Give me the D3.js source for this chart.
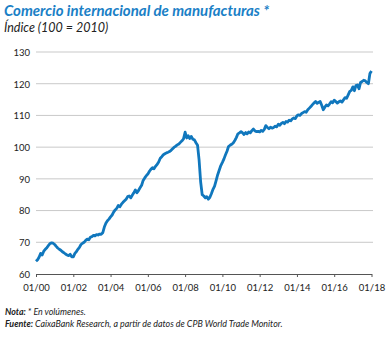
<!DOCTYPE html>
<html>
<head>
<meta charset="utf-8">
<script src="https://cdn.jsdelivr.net/npm/d3@7"></script>
<style>
  html, body { margin: 0; padding: 0; background: #fff; }
  svg { display: block; }
</style>
</head>
<body>
<svg id="chart" width="389" height="338"></svg>
<script>
// ---- DATA (monthly index, 100 = 2010), from Jan 2000 ----
const startYear = 2000;
const values = [
  // 2000
  64.0, 64.5, 65.3, 66.5, 66.0, 67.2, 67.8, 68.3, 69.0, 69.6, 69.8, 69.7,
  // 2001
  69.3, 68.7, 68.2, 67.8, 67.5, 67.0, 66.7, 66.3, 66.0, 65.8, 66.2, 65.4,
  // 2002
  65.4, 66.5, 67.0, 67.8, 68.4, 69.3, 69.7, 70.0, 70.6, 71.0, 70.8, 71.6,
  // 2003
  71.8, 72.2, 72.0, 72.4, 72.3, 72.6, 72.5, 73.0, 74.8, 76.0, 76.8, 77.3,
  // 2004
  78.0, 78.6, 79.5, 80.2, 80.7, 81.6, 81.2, 82.0, 82.6, 83.1, 83.6, 84.4,
  // 2005
  84.6, 84.0, 84.8, 85.6, 86.5, 85.6, 86.3, 87.2, 88.0, 89.5, 90.3, 91.0,
  // 2006
  91.5, 92.4, 93.0, 93.5, 93.2, 94.0, 94.5, 95.3, 96.5, 97.0, 97.6, 97.9,
  // 2007
  98.2, 98.4, 98.6, 99.0, 99.5, 100.0, 100.3, 100.7, 101.0, 101.5, 102.0, 102.6,
  // 2008
  104.7, 102.9, 103.6, 102.7, 103.4, 102.5, 102.3, 101.4, 100.6, 96.0, 89.0, 85.0,
  // 2009
  84.6, 84.0, 84.4, 83.6, 84.2, 85.4, 86.7, 87.7, 89.5, 91.3, 92.8, 94.2,
  // 2010
  95.2, 96.3, 97.5, 98.7, 100.2, 100.6, 100.9, 101.3, 102.1, 103.0, 104.2, 104.5,
  // 2011
  104.9, 104.5, 104.0, 104.6, 104.2, 104.8, 104.5, 105.2, 105.7, 105.1, 104.9, 105.0,
  // 2012
  104.8, 105.3, 105.0, 105.6, 106.8, 106.2, 105.8, 106.3, 106.0, 106.2, 106.6, 106.4,
  // 2013
  107.2, 106.9, 107.5, 107.8, 107.4, 108.1, 107.9, 108.5, 108.3, 108.9, 109.2, 109.0,
  // 2014
  109.9, 110.2, 110.0, 110.6, 110.9, 111.2, 111.0, 111.8, 112.3, 112.8, 113.4, 113.9,
  // 2015
  114.4, 113.8, 114.1, 114.4, 113.2, 111.8, 112.6, 113.3, 113.0, 113.6, 114.3, 114.0,
  // 2016
  114.8, 114.4, 113.9, 114.3, 114.6, 114.2, 114.9, 115.6, 115.4, 116.5, 117.6, 117.9,
  // 2017
  119.0, 117.8, 119.4, 119.6, 118.4, 120.4, 120.7, 121.1, 120.9, 120.4, 120.0, 123.2,
  // 2018
  124.0
];
const yTicks = [60, 70, 80, 90, 100, 110, 120, 130];
const xTickYears = [2000, 2002, 2004, 2006, 2008, 2010, 2012, 2014, 2016, 2018];
const xTickLabels = ["01/00", "01/02", "01/04", "01/06", "01/08", "01/10", "01/12", "01/14", "01/16", "01/18"];

const titleText = "Comercio internacional de manufacturas *";
const subtitleText = "Índice (100 = 2010)";

// ---- DRAW ----
const svg = d3.select("#chart");
const blue = "#1077bd";
const font = "Lato, 'Open Sans', sans-serif";

const data = values.map((v, i) => ({ date: new Date(startYear, i, 1), value: v }));

const x = d3.scaleTime()
  .domain([new Date(2000, 0, 1), new Date(2018, 0, 1)])
  .range([36, 371.5]);
const y = d3.scaleLinear().domain([60, 130]).range([274, 52]);

// gridlines
svg.append("g").selectAll("line")
  .data(yTicks.filter(d => d > 60))
  .join("line")
  .attr("x1", 36).attr("x2", 373)
  .attr("y1", d => y(d)).attr("y2", d => y(d))
  .attr("stroke", "#c9c9c9").attr("stroke-width", 1);

// y axis labels
const yAxis = d3.axisLeft(y).tickValues(yTicks).tickSize(0).tickPadding(0);
const gy = svg.append("g").attr("transform", "translate(30,0)").call(yAxis);
gy.select(".domain").remove();
gy.selectAll("text")
  .attr("font-family", font).attr("font-size", 9.5).attr("fill", "#222")
  .attr("dy", "0.35em");

// x axis
const xAxis = d3.axisBottom(x)
  .tickValues(xTickYears.map(yr => new Date(yr, 0, 1)))
  .tickFormat((d, i) => xTickLabels[i])
  .tickSize(3).tickSizeOuter(0).tickPadding(7);
const gx = svg.append("g").attr("transform", `translate(0,${y(60)})`).call(xAxis);
gx.select(".domain").attr("stroke", "#555").attr("stroke-width", 1);
gx.selectAll(".tick line").attr("stroke", "#555");
gx.selectAll("text")
  .attr("font-family", font).attr("font-size", 9.5).attr("fill", "#222");

// line
const line = d3.line().x(d => x(d.date)).y(d => y(d.value));
svg.append("path")
  .datum(data)
  .attr("d", line)
  .attr("fill", "none")
  .attr("stroke", blue)
  .attr("stroke-width", 2.8)
  .attr("stroke-linejoin", "round");

// titles
svg.append("text")
  .attr("x", 4).attr("y", 15.5)
  .attr("font-family", font).attr("font-size", 15).attr("font-weight", "bold")
  .attr("font-style", "italic").attr("fill", "#1a80c6")
  .text(titleText);
svg.append("text")
  .attr("x", 4).attr("y", 31.5)
  .attr("font-family", font).attr("font-size", 12.5)
  .attr("font-style", "italic").attr("fill", "#222")
  .text(subtitleText);

// notes
const nota = svg.append("text")
  .attr("x", 5).attr("y", 315)
  .attr("font-family", font).attr("font-size", 8.9)
  .attr("font-style", "italic").attr("fill", "#222");
nota.append("tspan").attr("font-weight", "bold").text("Nota: ");
nota.append("tspan").text("* En volúmenes.");

const fuente = svg.append("text")
  .attr("x", 5).attr("y", 326.5)
  .attr("font-family", font).attr("font-size", 8.9)
  .attr("font-style", "italic").attr("fill", "#222");
fuente.append("tspan").attr("font-weight", "bold").text("Fuente: ");
fuente.append("tspan").text("CaixaBank Research, a partir de datos de CPB World Trade Monitor.");
</script>
</body>
</html>
